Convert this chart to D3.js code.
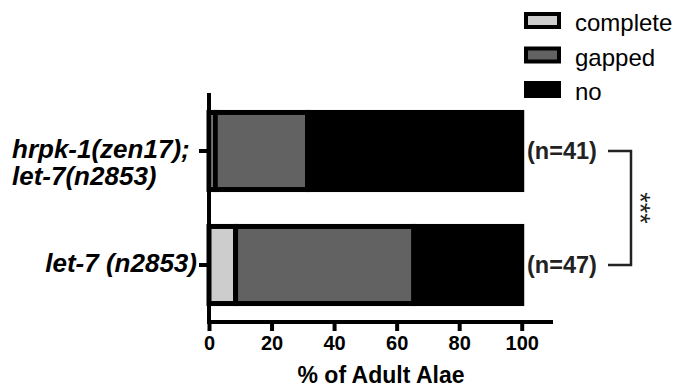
<!DOCTYPE html>
<html>
<head>
<meta charset="utf-8">
<script src="https://cdn.jsdelivr.net/npm/d3@7"></script>
<style>
  body { margin: 0; background: #fff; }
  text { font-family: "Liberation Sans", Arial, sans-serif; }
</style>
</head>
<body>
<div id="chart"></div>
<script>
// values (% of adult alae)
const strains = ["hrpk-1(zen17);|let-7(n2853)", "let-7 (n2853)"];
const complete = [2, 8.5];
const gapped = [29.5, 57];
const none = [68.5, 34.5];
const counts = ["(n=41)", "(n=47)"];
const classes = ["complete", "gapped", "no"];
const classColors = ["#cdcdcd", "#626262", "#000000"];
const xTicks = [0, 20, 40, 60, 80, 100];

const width = 682, height = 390;

const svg = d3.select("#chart").append("svg")
    .attr("width", width)
    .attr("height", height);

const x = d3.scaleLinear().domain([0, 110]).range([209, 553]);
const y = d3.scaleBand().domain(strains).range([94, 322])
    .paddingInner(0.28).paddingOuter(0.14);

// stack per strain
const rows = strains.map((s, i) => ({ strain: s, values: [complete[i], gapped[i], none[i]] }));

rows.forEach(r => {
    let start = 0;
    r.values.forEach((v, k) => {
        svg.append("rect")
            .attr("x", x(start))
            .attr("y", y(r.strain) + 2.5)
            .attr("width", x(start + v) - x(start))
            .attr("height", y.bandwidth() - 5)
            .attr("fill", classColors[k])
            .attr("stroke", "#000")
            .attr("stroke-width", 5);
        start += v;
    });
});

// x axis
const xAxis = svg.append("g")
    .attr("transform", `translate(0, 322)`)
    .call(d3.axisBottom(x).tickValues(xTicks).tickSize(9).tickSizeOuter(0).tickPadding(5));
xAxis.select(".domain").attr("stroke-width", 4).attr("d", `M${x(0) - 2},0H${x(110)}`);
xAxis.selectAll(".tick line").attr("stroke-width", 4);
xAxis.selectAll(".tick text")
    .attr("font-family", "Liberation Sans, Arial, sans-serif")
    .attr("font-size", 20).attr("font-weight", "bold").attr("fill", "#000");

svg.append("text")
    .attr("x", 381).attr("y", 383)
    .attr("text-anchor", "middle")
    .attr("font-size", 23).attr("font-weight", "bold")
    .text("% of Adult Alae");

// y axis
const yAxis = svg.append("g")
    .attr("transform", `translate(${x(0)}, 0)`)
    .call(d3.axisLeft(y).tickSize(10).tickSizeOuter(0).tickFormat(""));
yAxis.select(".domain").attr("stroke-width", 4).attr("d", "M0,93V324");
yAxis.selectAll(".tick line").attr("stroke-width", 4);

// strain labels (bold italic)
strains.forEach(s => {
    const lines = s.split("|");
    const cy = y(s) + y.bandwidth() / 2;
    const lh = 27;
    const multi = lines.length > 1;
    const t = svg.append("text")
        .attr("text-anchor", multi ? "start" : "end")
        .attr("font-size", 26).attr("font-weight", "bold").attr("font-style", "italic");
    lines.forEach((l, j) => {
        t.append("tspan")
            .attr("x", multi ? 12 : 197)
            .attr("y", cy + 7 + j * lh)
            .text(l);
    });
});

// n labels
strains.forEach((s, i) => {
    svg.append("text")
        .attr("x", 527).attr("y", y(s) + y.bandwidth() / 2 + 8)
        .attr("font-size", 23.5).attr("font-weight", "bold")
        .attr("fill", "#222")
        .text(counts[i]);
});

// significance bracket
const yA = y(strains[0]) + y.bandwidth() / 2;
const yB = y(strains[1]) + y.bandwidth() / 2;
svg.append("path")
    .attr("d", `M608,${yA}H631V${yB}H608`)
    .attr("fill", "none").attr("stroke", "#222").attr("stroke-width", 2.5);
svg.append("text")
    .attr("transform", `translate(631, ${(yA + yB) / 2}) rotate(90)`)
    .attr("text-anchor", "middle")
    .attr("font-size", 27)
    .attr("fill", "#222")
    .text("***");

// legend
const legend = svg.append("g").attr("transform", "translate(524, 12)");
classes.forEach((c, i) => {
    const g = legend.append("g").attr("transform", `translate(0, ${i * 34.5})`);
    g.append("rect")
        .attr("x", 2).attr("y", 2)
        .attr("width", 33).attr("height", 13)
        .attr("fill", classColors[i])
        .attr("stroke", "#000").attr("stroke-width", 4);
    g.append("text")
        .attr("x", 51).attr("y", 19)
        .attr("font-size", 24)
        .text(c);
});
</script>
</body>
</html>
